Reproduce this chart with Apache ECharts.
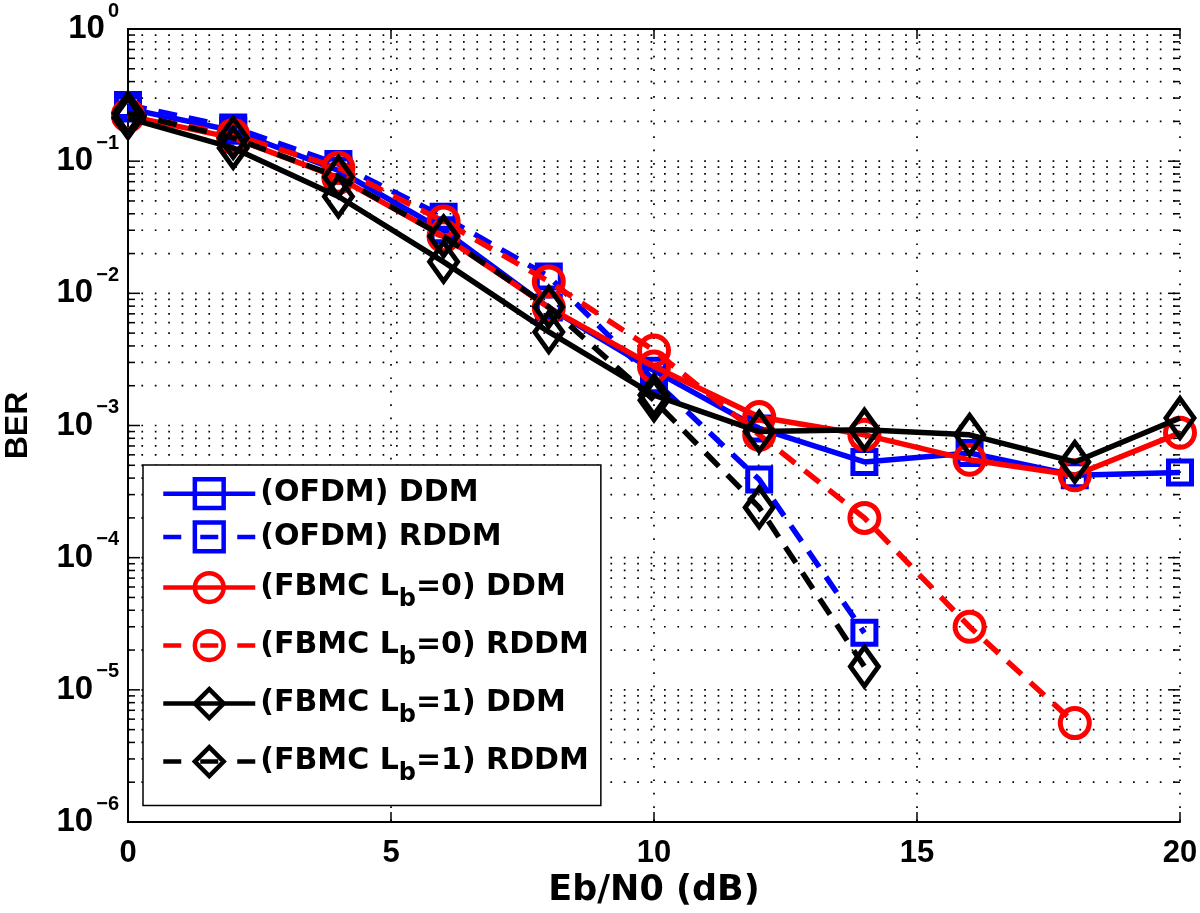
<!DOCTYPE html>
<html><head><meta charset="utf-8">
<script src="https://cdn.jsdelivr.net/npm/echarts@6/dist/echarts.min.js"></script>
<style>html,body{margin:0;padding:0;background:#fff}#c{width:1200px;height:913px}</style>
</head><body><div id="c"></div>
<script>
// ---- data ----
const snr = [0, 2, 4, 6, 8, 10, 12, 14, 16, 18, 20];
const ofdmDDM   = [0.25, 0.17, 0.085, 0.030, 0.0078, 0.0026, 0.00095, 0.00053, 0.00062, 0.00042, 0.00044];
const ofdmRDDM  = [0.266, 0.18, 0.095, 0.038, 0.0134, 0.0022, 0.00039, 0.000027];
const fbmc0DDM  = [0.22, 0.15, 0.075, 0.027, 0.0078, 0.0028, 0.00116, 0.00085, 0.00055, 0.00042, 0.00088];
const fbmc0RDDM = [0.224, 0.158, 0.089, 0.035, 0.0123, 0.0037, 0.00085, 0.0002, 0.00003, 0.0000056];
const fbmc1DDM  = [0.212, 0.126, 0.054, 0.0173, 0.0051, 0.0017, 0.0009, 0.00093, 0.00085, 0.00053, 0.00114];
const fbmc1RDDM = [0.231, 0.15, 0.076, 0.027, 0.0079, 0.00155, 0.00024, 0.000015];
const seriesNames = ['(OFDM) DDM', '(OFDM) RDDM', '(FBMC Lb=0) DDM', '(FBMC Lb=0) RDDM', '(FBMC Lb=1) DDM', '(FBMC Lb=1) RDDM'];
const xTicks = [0, 5, 10, 15, 20];
const yDecadeExponents = [0, -1, -2, -3, -4, -5, -6];
const yMinorMantissas = [2, 3, 4, 5, 6, 7, 8, 9];
const xTitle = 'Eb/N0 (dB)';
const yTitle = 'BER';

// ---- build ----
const LIB = "'Liberation Sans', Arial, Helvetica, sans-serif";
const DJV = "'DejaVu Sans', sans-serif";
const pairs = (vals) => vals.map((v, i) => [snr[i], v]);
const DASH = [19, 12];
const styles = [
  {color: '#0000ff', dash: false, symbol: 'rect', size: 23},
  {color: '#0000ff', dash: true,  symbol: 'rect', size: 23},
  {color: '#ff0000', dash: false, symbol: 'circle', size: 29},
  {color: '#ff0000', dash: true,  symbol: 'circle', size: 29},
  {color: '#000000', dash: false, symbol: 'diamond', size: [28, 39]},
  {color: '#000000', dash: true,  symbol: 'diamond', size: [28, 39]}
];
const allVals = [ofdmDDM, ofdmRDDM, fbmc0DDM, fbmc0RDDM, fbmc1DDM, fbmc1RDDM];

const gridRows = [];
yDecadeExponents.forEach(e => {
  gridRows.push([0, Math.pow(10, e), 1]);
  if (e > -6) yMinorMantissas.forEach(m => gridRows.push([0, m * Math.pow(10, e - 1), 0]));
});

const lineSeries = allVals.map((vals, i) => ({
  name: seriesNames[i],
  type: 'line',
  data: pairs(vals),
  symbol: styles[i].symbol,
  symbolSize: styles[i].size,
  showAllSymbol: true,
  lineStyle: {color: styles[i].color, width: 5.5, type: styles[i].dash ? DASH : 'solid'},
  itemStyle: {color: 'rgba(0,0,0,0)', borderColor: styles[i].color, borderWidth: 5},
  emphasis: {disabled: true},
  z: 10 + i
}));

const gridSeries = {
  type: 'custom',
  silent: true,
  clip: false,
  z: 1,
  xAxisIndex: 0, yAxisIndex: 0,
  data: gridRows,
  renderItem: function (params, api) {
    const cs = params.coordSys;
    const y = api.coord([0, api.value(1)])[1];
    const tl = api.value(2) === 1 ? 12 : 7;
    return {type: 'group', children: [
      {type: 'line', shape: {x1: cs.x, y1: y, x2: cs.x + cs.width, y2: y},
       style: {stroke: '#000', lineWidth: 1.7, lineDash: [1.7, 11.7]}},
      {type: 'line', shape: {x1: cs.x, y1: y, x2: cs.x + tl, y2: y}, style: {stroke: '#000', lineWidth: 1.5}},
      {type: 'line', shape: {x1: cs.x + cs.width - tl, y1: y, x2: cs.x + cs.width, y2: y}, style: {stroke: '#000', lineWidth: 1.5}}
    ]};
  }
};

function legendLabel(name) {
  const m = name.match(/^(.*L)b(=.*)$/);
  if (m) return '{mt|' + m[1] + '}{s|b}{mt|' + m[2] + '}';
  return '{m|' + name + '}';
}

const option = {
  animation: false,
  backgroundColor: '#ffffff',
  grid: {left: 128, top: 29, right: 20, bottom: 91, containLabel: false, outerBoundsMode: 'none'},
  xAxis: [{
    type: 'value', min: xTicks[0], max: xTicks[xTicks.length - 1], interval: 5,
    position: 'bottom',
    axisLine: {show: true, onZero: false, lineStyle: {color: '#000', width: 2}},
    axisTick: {show: true, inside: true, length: 10, lineStyle: {color: '#000', width: 1.5}},
    axisLabel: {color: '#000', fontFamily: LIB, fontWeight: 'bold', fontSize: 31, margin: 16},
    splitLine: {show: true, lineStyle: {color: '#000', width: 1.7, type: [1.7, 11.7]}},
    name: xTitle, nameLocation: 'middle', nameGap: 47,
    nameTextStyle: {color: '#000', fontFamily: DJV, fontWeight: 'bold', fontSize: 35}
  }, {
    type: 'value', min: xTicks[0], max: xTicks[xTicks.length - 1], interval: 5,
    position: 'top',
    axisLine: {show: true, onZero: false, lineStyle: {color: '#000', width: 2}},
    axisTick: {show: true, inside: true, length: 10, lineStyle: {color: '#000', width: 1.5}},
    axisLabel: {show: false}, splitLine: {show: false}
  }],
  yAxis: [{
    type: 'log', logBase: 10, min: 1e-6, max: 1, splitNumber: 6,
    position: 'left',
    axisLine: {show: true, lineStyle: {color: '#000', width: 2}},
    axisTick: {show: false},
    splitLine: {show: false},
    axisLabel: {
      margin: 9,
      formatter: function (v) {
        const e = Math.round(Math.log10(v));
        return '{b|10}{s|' + (e < 0 ? '\u2212' + (-e) : e) + '}';
      },
      rich: {
        b: {fontFamily: LIB, fontWeight: 'bold', fontSize: 33, color: '#000', lineHeight: 34},
        s: {fontFamily: LIB, fontWeight: 'bold', fontSize: 20, color: '#000', lineHeight: 20, padding: [0, 0, 36, 3]}
      }
    },
    name: yTitle, nameLocation: 'middle', nameRotate: 90, nameGap: 94,
    nameTextStyle: {color: '#000', fontFamily: LIB, fontWeight: 'bold', fontSize: 32}
  }, {
    type: 'log', logBase: 10, min: 1e-6, max: 1, splitNumber: 6,
    position: 'right',
    axisLine: {show: true, lineStyle: {color: '#000', width: 2}},
    axisTick: {show: false}, axisLabel: {show: false}, splitLine: {show: false}
  }],
  legend: {
    orient: 'vertical', left: 143, top: 465,
    backgroundColor: '#fff', borderColor: '#000', borderWidth: 1.5,
    padding: [12, 12, 20, 18],
    itemGap: 10, itemWidth: 92, itemHeight: 36,
    selectedMode: false,
    itemStyle: {borderWidth: 4.5},
    lineStyle: {width: 4.5},
    data: seriesNames.map((n, i) => styles[i].dash ? {name: n, lineStyle: {type: [18, 19]}} : {name: n}),
    formatter: legendLabel,
    textStyle: {
      color: '#000', fontFamily: DJV, fontWeight: 'bold', fontSize: 30,
      rich: {
        m: {fontFamily: DJV, fontWeight: 'bold', fontSize: 30, color: '#000', lineHeight: 34},
        mt: {fontFamily: DJV, fontWeight: 'bold', fontSize: 30, color: '#000', lineHeight: 50},
        s: {fontFamily: DJV, fontWeight: 'bold', fontSize: 24, color: '#000', lineHeight: 24, padding: [24, 0, 0, 0]}
      }
    }
  },
  series: [gridSeries].concat(lineSeries)
};

const chart = echarts.init(document.getElementById('c'), null, {renderer: 'canvas'});
chart.setOption(option);
</script>
</body></html>
